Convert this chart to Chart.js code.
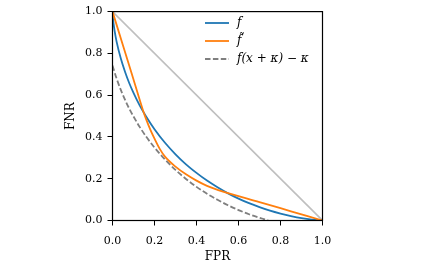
<!DOCTYPE html>
<html>
<head>
<meta charset="utf-8">
<script src="https://cdn.jsdelivr.net/npm/chart.js@4/dist/chart.umd.min.js"></script>
<style>
html,body{margin:0;padding:0;background:#fff;}
#wrap{width:436px;height:270px;}
</style>
</head>
<body>
<div id="wrap"><canvas id="c" width="436" height="270"></canvas></div>
<script>
// ---- data ----
const fprF = [0, 0.002, 0.005, 0.01, 0.02, 0.04, 0.06, 0.08, 0.10, 0.13, 0.16, 0.20, 0.25, 0.30, 0.35, 0.40, 0.45, 0.50, 0.55, 0.60, 0.65, 0.70, 0.75, 0.80, 0.85, 0.90, 0.95, 1.0];
const fnrF = [1, 0.970, 0.942, 0.908, 0.854, 0.774, 0.711, 0.657, 0.611, 0.550, 0.498, 0.437, 0.372, 0.317, 0.269, 0.228, 0.191, 0.159, 0.130, 0.105, 0.083, 0.064, 0.047, 0.033, 0.021, 0.011, 0.004, 0];

const fprFt = [0, 0.05, 0.10, 0.145, 0.16, 0.18, 0.20, 0.225, 0.25, 0.30, 0.35, 0.40, 0.45, 0.50, 0.53, 0.70, 0.85, 1.0];
const fnrFt = [1, 0.838, 0.675, 0.528, 0.485, 0.435, 0.392, 0.343, 0.306, 0.258, 0.221, 0.191, 0.166, 0.147, 0.137, 0.088, 0.044, 0];

const fprShift = [0, 0.02, 0.04, 0.06, 0.08, 0.10, 0.13, 0.16, 0.20, 0.25, 0.30, 0.35, 0.40, 0.45, 0.50, 0.55, 0.60, 0.65, 0.70, 0.72, 0.742];
const fnrShift = [0.742, 0.678, 0.624, 0.577, 0.535, 0.498, 0.447, 0.402, 0.349, 0.292, 0.242, 0.199, 0.161, 0.128, 0.099, 0.073, 0.050, 0.030, 0.013, 0.007, 0];

const diagX = [0, 1];
const diagY = [1, 0];

const tickValues = [0, 0.2, 0.4, 0.6, 0.8, 1.0];
const tickLabels = ['0.0', '0.2', '0.4', '0.6', '0.8', '1.0'];

const seriesLabels = ['f', 'f\u0303', 'f(x + \u03BA) \u2212 \u03BA'];
const axisTitles = {x: 'FPR', y: 'FNR'};

const pts = (xs, ys) => xs.map((x, i) => ({x: x, y: ys[i]}));

const SERIF = '"DejaVu Serif", "Liberation Serif", serif';

const styles = [
  {color: '#1f77b4', dash: []},
  {color: '#ff7f0e', dash: []},
  {color: '#7f7f7f', dash: [5.5, 2.4]}
];

const framePlugin = {
  id: 'frame',
  afterDraw(chart) {
    const {ctx, chartArea: a} = chart;
    ctx.save();
    ctx.strokeStyle = '#000';
    ctx.lineWidth = 1.2;
    ctx.strokeRect(a.left, a.top, a.right - a.left, a.bottom - a.top);
    // legend
    const x0 = 205, x1 = 229, tx = 237;
    const rows = [23, 41, 59];
    ctx.font = 'italic 12px ' + SERIF;
    ctx.textBaseline = 'middle';
    ctx.textAlign = 'left';
    for (let i = 0; i < 3; i++) {
      ctx.beginPath();
      ctx.strokeStyle = styles[i].color;
      ctx.lineWidth = 1.8;
      ctx.setLineDash(styles[i].dash);
      ctx.moveTo(x0, rows[i]);
      ctx.lineTo(x1, rows[i]);
      ctx.stroke();
      ctx.setLineDash([]);
      ctx.fillStyle = '#000';
      ctx.fillText(seriesLabels[i], tx, rows[i]);
    }
    ctx.restore();
  }
};

const scaleCommon = {
  type: 'linear',
  min: 0,
  max: 1,
  afterBuildTicks(scale) { scale.ticks = tickValues.map(v => ({value: v})); },
  grid: {display: true, drawOnChartArea: false, drawTicks: true, tickLength: 5, color: '#000', lineWidth: 1},
  border: {display: false},
};

new Chart(document.getElementById('c'), {
  type: 'scatter',
  data: {
    datasets: [
      {label: 'diag', data: pts(diagX, diagY), showLine: true, borderColor: '#bfbfbf', borderWidth: 1.6, pointRadius: 0, order: 4},
      {label: seriesLabels[2], data: pts(fprShift, fnrShift), showLine: true, borderColor: styles[2].color, borderWidth: 1.8, borderDash: styles[2].dash, pointRadius: 0, cubicInterpolationMode: 'monotone', order: 3},
      {label: seriesLabels[0], data: pts(fprF, fnrF), showLine: true, borderColor: styles[0].color, borderWidth: 1.8, pointRadius: 0, cubicInterpolationMode: 'monotone', order: 2},
      {label: seriesLabels[1], data: pts(fprFt, fnrFt), showLine: true, borderColor: styles[1].color, borderWidth: 1.8, pointRadius: 0, cubicInterpolationMode: 'monotone', order: 1}
    ]
  },
  options: {
    responsive: false,
    animation: false,
    devicePixelRatio: 1,
    layout: {padding: {left: 0, top: 10, right: 113.5, bottom: 0}},
    plugins: {legend: {display: false}, tooltip: {enabled: false}},
    scales: {
      x: Object.assign({}, scaleCommon, {
        position: 'bottom',
        afterFit(scale) { scale.height = 49.5; },
        ticks: {color: '#000', font: {family: SERIF, size: 11}, padding: 9, maxRotation: 0,
          callback: (v) => tickLabels[tickValues.findIndex(t => Math.abs(t - v) < 1e-9)]},
        title: {display: true, text: axisTitles.x, color: '#000', font: {family: SERIF, size: 12}, padding: {top: 0, bottom: 6}}
      }),
      y: Object.assign({}, scaleCommon, {
        position: 'left',
        afterFit(scale) { scale.width = 112.5; },
        ticks: {color: '#000', font: {family: SERIF, size: 11}, padding: 5,
          callback: (v) => tickLabels[tickValues.findIndex(t => Math.abs(t - v) < 1e-9)]},
        title: {display: true, text: axisTitles.y, color: '#000', font: {family: SERIF, size: 12}, padding: {top: 64, bottom: 0}}
      })
    }
  },
  plugins: [framePlugin]
});
</script>
</body>
</html>
